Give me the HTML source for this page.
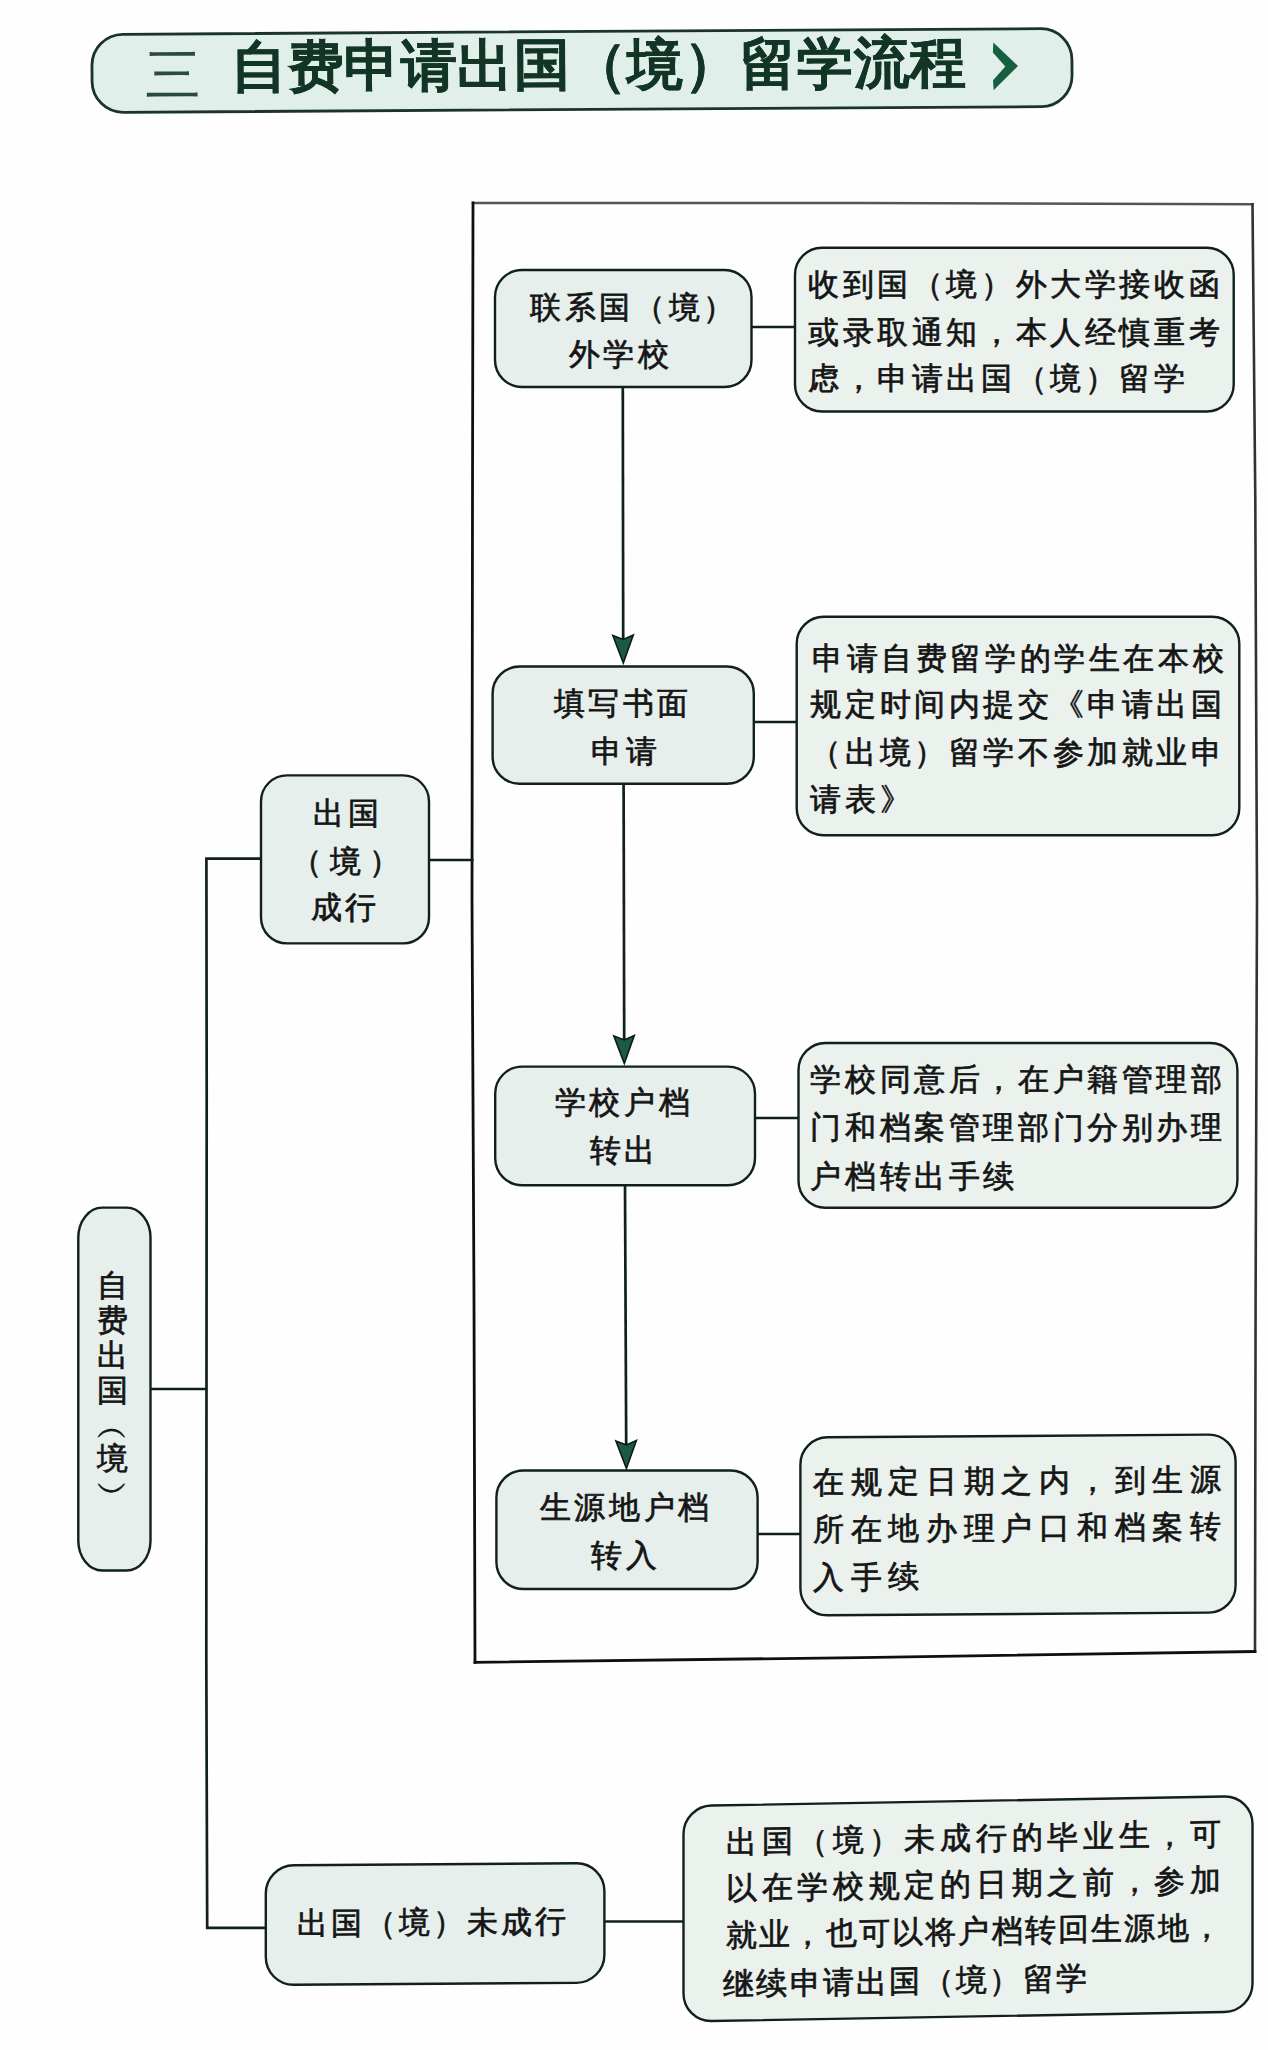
<!DOCTYPE html>
<html><head><meta charset="utf-8"><style>
html,body{margin:0;padding:0;background:#fefefe;width:1268px;height:2050px;overflow:hidden}
body{position:relative;font-family:"Liberation Sans",sans-serif}
.s{position:absolute;left:0;top:0}
.t{position:absolute;white-space:nowrap;color:#151515;-webkit-text-stroke:0.7px #151515;font-family:"Liberation Sans",sans-serif}
.tt{position:absolute;white-space:nowrap;color:#1a5039;-webkit-text-stroke:1.2px #1a5039;font-family:"Liberation Serif",serif}
</style></head><body>
<svg class="s" width="1268" height="2050" viewBox="0 0 1268 2050"><g transform="rotate(-0.35 582 70)"><rect x="92" y="31.5" width="980" height="78" rx="31" ry="31" fill="#e0efe9" stroke="#1a332b" stroke-width="2.8"/></g><g transform="rotate(-0.35 582 70)"><path d="M993.5 45 L1018 68.6 L993.5 92.7 L993 82.8 L1005.3 69 L993 55 Z" fill="#17603f"/></g><path d="M473 203 L860 203.1 L1252.5 204.3" fill="none" stroke="#4e5856" stroke-width="2.5" stroke-linejoin="miter" stroke-linecap="square"/><path d="M1252.5 204.3 L1255.3 500 L1257 900 L1255.6 1300 L1255 1651.5" fill="none" stroke="#2c3533" stroke-width="2.6" stroke-linejoin="miter" stroke-linecap="square"/><path d="M1255 1651.5 L860 1657.6 L475 1662.3" fill="none" stroke="#0c110f" stroke-width="2.8" stroke-linejoin="miter" stroke-linecap="square"/><path d="M475 1662.3 L474 1300 L472 900 L472.5 500 L473 203" fill="none" stroke="#0c110f" stroke-width="2.8" stroke-linejoin="miter" stroke-linecap="square"/><path d="M150.5 1389 L206.5 1389" fill="none" stroke="#11201b" stroke-width="2.3" stroke-linejoin="miter" stroke-linecap="butt"/><path d="M261 858.6 L206.4 858.6 L206.7 1095 L206.3 1655 L207.2 1927.8 L266 1927.8" fill="none" stroke="#11201b" stroke-width="2.7" stroke-linejoin="miter" stroke-linecap="butt"/><path d="M429 860 L473.5 860" fill="none" stroke="#11201b" stroke-width="2.3" stroke-linejoin="miter" stroke-linecap="butt"/><path d="M751.5 327 L795 327" fill="none" stroke="#11201b" stroke-width="2.3" stroke-linejoin="miter" stroke-linecap="butt"/><path d="M753.8 722 L796.7 722" fill="none" stroke="#11201b" stroke-width="2.3" stroke-linejoin="miter" stroke-linecap="butt"/><path d="M755 1118 L798.5 1118" fill="none" stroke="#11201b" stroke-width="2.3" stroke-linejoin="miter" stroke-linecap="butt"/><path d="M757.6 1534 L800.4 1534" fill="none" stroke="#11201b" stroke-width="2.3" stroke-linejoin="miter" stroke-linecap="butt"/><path d="M604.4 1921.5 L684 1921.5" fill="none" stroke="#11201b" stroke-width="2.3" stroke-linejoin="miter" stroke-linecap="butt"/><path d="M622.8 387.5 L623.2 640" fill="none" stroke="#11201b" stroke-width="2.7" stroke-linejoin="miter" stroke-linecap="butt"/><path d="M623.6 783.8 L624.2 1040" fill="none" stroke="#11201b" stroke-width="2.7" stroke-linejoin="miter" stroke-linecap="butt"/><path d="M625 1185.2 L626.2 1444" fill="none" stroke="#11201b" stroke-width="2.7" stroke-linejoin="miter" stroke-linecap="butt"/><path d="M612.8 635.5 L623.3 639.5 L633.3 635 L623.3 663 Z" fill="#1c5a46" stroke="#0d1a14" stroke-width="1.6" stroke-linejoin="miter"/><path d="M613.8 1036.0 L624.3 1040.0 L634.3 1035.5 L624.3 1063.5 Z" fill="#1c5a46" stroke="#0d1a14" stroke-width="1.6" stroke-linejoin="miter"/><path d="M615.9 1441.0 L626.4 1445.0 L636.4 1440.5 L626.4 1468.5 Z" fill="#1c5a46" stroke="#0d1a14" stroke-width="1.6" stroke-linejoin="miter"/><rect x="495" y="270" width="256.5" height="117" rx="27" ry="27" fill="#e6efeb" stroke="#11201b" stroke-width="2.4"/><rect x="492.6" y="666.5" width="261.19999999999993" height="117.29999999999995" rx="27" ry="27" fill="#e6efeb" stroke="#11201b" stroke-width="2.4"/><rect x="495.2" y="1066.6" width="259.8" height="118.60000000000014" rx="27" ry="27" fill="#e6efeb" stroke="#11201b" stroke-width="2.4"/><rect x="496.4" y="1470.5" width="261.20000000000005" height="118.5" rx="27" ry="27" fill="#e6efeb" stroke="#11201b" stroke-width="2.4"/><rect x="795" y="247.8" width="438.70000000000005" height="163.7" rx="27" ry="27" fill="#ebf2ee" stroke="#11201b" stroke-width="2.4"/><rect x="796.7" y="616.7" width="442.5999999999999" height="218.5" rx="27" ry="27" fill="#ebf2ee" stroke="#11201b" stroke-width="2.4"/><rect x="798.5" y="1043" width="438.9000000000001" height="164.79999999999995" rx="27" ry="27" fill="#ebf2ee" stroke="#11201b" stroke-width="2.4"/><rect x="800.4" y="1437.5" width="435.19999999999993" height="178.0" rx="27" ry="27" fill="#ebf2ee" stroke="#11201b" stroke-width="2.4" transform="translate(800.4 1437.5) skewY(-0.4) translate(-800.4 -1437.5)"/><rect x="261" y="775.4" width="168" height="168.0" rx="26" ry="26" fill="#e6efeb" stroke="#11201b" stroke-width="2.4"/><rect x="78.3" y="1207.6" width="72.2" height="362.9000000000001" rx="24" ry="30" fill="#e6efeb" stroke="#11201b" stroke-width="2.4"/><rect x="265.8" y="1865.4" width="338.59999999999997" height="119.59999999999991" rx="28" ry="28" fill="#e6efeb" stroke="#11201b" stroke-width="2.4" transform="translate(265.8 1865.4) skewY(-0.4) translate(-265.8 -1865.4)"/><rect x="683.5" y="1806" width="569.0" height="215.5" rx="28" ry="28" fill="#ebf2ee" stroke="#11201b" stroke-width="2.4" transform="translate(683.5 1806) skewY(-1.0) translate(-683.5 -1806)"/></svg>
<div style="position:absolute;left:0;top:0;width:1268px;height:140px;transform-origin:582px 70px;transform:rotate(-0.35deg)"><div class="tt" style="left:145px;top:44px;font-size:56px;line-height:56px;color:#2a4a3d;-webkit-text-stroke:0px #2a4a3d">三</div><div class="tt" style="left:231px;top:37px;font-size:56px;line-height:56px;letter-spacing:0.6px;font-weight:bold;-webkit-text-stroke:0.3px #123526;color:#123526">自费申请出国（境）留学流程</div></div>
<div class="t" style="left:530.2px;top:291.6px;font-size:31px;line-height:31px;letter-spacing:3.6000000000000014px;">联系国（境）</div><div class="t" style="left:568.8px;top:338.8px;font-size:31px;line-height:31px;letter-spacing:3.6000000000000014px;">外学校</div><div class="t" style="left:553.5px;top:688.2px;font-size:31px;line-height:31px;letter-spacing:3.6000000000000014px;">填写书面</div><div class="t" style="left:591.4px;top:736.2px;font-size:31px;line-height:31px;letter-spacing:3.6000000000000014px;">申请</div><div class="t" style="left:554.8px;top:1087.2px;font-size:31px;line-height:31px;letter-spacing:3.6000000000000014px;">学校户档</div><div class="t" style="left:589.8px;top:1135.2px;font-size:31px;line-height:31px;letter-spacing:3.6000000000000014px;">转出</div><div class="t" style="left:539.8px;top:1492.2px;font-size:31px;line-height:31px;letter-spacing:3.6000000000000014px;">生源地户档</div><div class="t" style="left:591.4px;top:1540.2px;font-size:31px;line-height:31px;letter-spacing:3.6000000000000014px;">转入</div><div class="t" style="left:313.4px;top:798.2px;font-size:31px;line-height:31px;letter-spacing:3.6000000000000014px;">出国</div><div class="t" style="left:290.8px;top:845.6px;font-size:31px;line-height:31px;letter-spacing:8px;">（境）</div><div class="t" style="left:310.8px;top:892.2px;font-size:31px;line-height:31px;letter-spacing:3.6000000000000014px;">成行</div><div class="t" style="left:296.8px;top:1908.2px;font-size:31px;line-height:31px;letter-spacing:3.0px;transform-origin:0 0;transform:skewY(-0.4deg)">出国（境）未成行</div><div class="t" style="left:808.1px;top:269.2px;font-size:31px;line-height:31px;letter-spacing:3.6000000000000014px;">收到国（境）外大学接收函</div><div class="t" style="left:808.1px;top:316.5px;font-size:31px;line-height:31px;letter-spacing:3.6000000000000014px;">或录取通知，本人经慎重考</div><div class="t" style="left:808.1px;top:363.0px;font-size:31px;line-height:31px;letter-spacing:3.6000000000000014px;">虑，申请出国（境）留学</div><div class="t" style="left:812.0px;top:642.6px;font-size:31px;line-height:31px;letter-spacing:3.6000000000000014px;">申请自费留学的学生在本校</div><div class="t" style="left:810.4px;top:689.2px;font-size:31px;line-height:31px;letter-spacing:3.6000000000000014px;">规定时间内提交《申请出国</div><div class="t" style="left:810.4px;top:737.2px;font-size:31px;line-height:31px;letter-spacing:3.6000000000000014px;">（出境）留学不参加就业申</div><div class="t" style="left:810.4px;top:784.2px;font-size:31px;line-height:31px;letter-spacing:3.6000000000000014px;">请表》</div><div class="t" style="left:810.4px;top:1064.2px;font-size:31px;line-height:31px;letter-spacing:3.6000000000000014px;">学校同意后，在户籍管理部</div><div class="t" style="left:810.4px;top:1112.2px;font-size:31px;line-height:31px;letter-spacing:3.6000000000000014px;">门和档案管理部门分别办理</div><div class="t" style="left:810.4px;top:1160.7px;font-size:31px;line-height:31px;letter-spacing:3.6000000000000014px;">户档转出手续</div><div class="t" style="left:812.8px;top:1467.2px;font-size:31px;line-height:31px;letter-spacing:6.700000000000003px;transform-origin:0 0;transform:skewY(-0.4deg)">在规定日期之内，到生源</div><div class="t" style="left:812.8px;top:1514.2px;font-size:31px;line-height:31px;letter-spacing:6.700000000000003px;transform-origin:0 0;transform:skewY(-0.4deg)">所在地办理户口和档案转</div><div class="t" style="left:812.8px;top:1562.2px;font-size:31px;line-height:31px;letter-spacing:6.700000000000003px;transform-origin:0 0;transform:skewY(-0.4deg)">入手续</div><div class="t" style="left:725.7px;top:1826.7px;font-size:31px;line-height:31px;letter-spacing:4.700000000000003px;transform-origin:0 0;transform:skewY(-0.95deg)">出国（境）未成行的毕业生，可</div><div class="t" style="left:725.7px;top:1873.2px;font-size:31px;line-height:31px;letter-spacing:4.700000000000003px;transform-origin:0 0;transform:skewY(-0.95deg)">以在学校规定的日期之前，参加</div><div class="t" style="left:725.7px;top:1920.2px;font-size:31px;line-height:31px;letter-spacing:2.200000000000003px;transform-origin:0 0;transform:skewY(-0.95deg)">就业，也可以将户档转回生源地，</div><div class="t" style="left:722.8px;top:1968.6px;font-size:31px;line-height:31px;letter-spacing:2.299999999999997px;transform-origin:0 0;transform:skewY(-0.95deg)">继续申请出国（境）留学</div><div class="t" style="left:96.5px;top:1269.7px;width:31px;text-align:center;font-size:31px;line-height:31px">自</div><div class="t" style="left:96.5px;top:1304.7px;width:31px;text-align:center;font-size:31px;line-height:31px">费</div><div class="t" style="left:96.5px;top:1339.7px;width:31px;text-align:center;font-size:31px;line-height:31px">出</div><div class="t" style="left:96.5px;top:1374.7px;width:31px;text-align:center;font-size:31px;line-height:31px">国</div><div class="t" style="left:96.5px;top:1411.7px;width:31px;text-align:center;font-size:31px;line-height:31px">︵</div><div class="t" style="left:96.5px;top:1443.3px;width:31px;text-align:center;font-size:31px;line-height:31px">境</div><div class="t" style="left:96.5px;top:1475.7px;width:31px;text-align:center;font-size:31px;line-height:31px">︶</div>
</body></html>
